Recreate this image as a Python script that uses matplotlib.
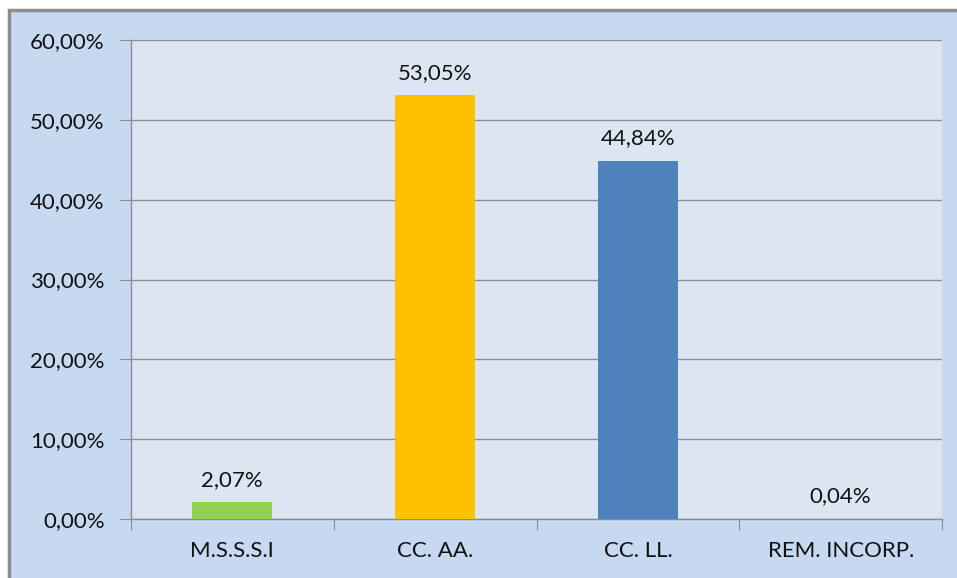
import matplotlib.pyplot as plt
from matplotlib.patches import Rectangle
from matplotlib.ticker import FuncFormatter

plt.rcParams['font.family'] = ['Lato', 'DejaVu Sans']

# datos
categorias = ['M.S.S.S.I', 'CC. AA.', 'CC. LL.', 'REM. INCORP.']
valores = [2.07, 53.05, 44.84, 0.04]
colores = ['#92d050', '#ffc000', '#4f81bd', '#8064a2']

fig = plt.figure(figsize=(9.57, 5.78), dpi=100)
fig.patch.set_facecolor('white')

# fondo del grafico con borde
fondo = Rectangle((9 / 957, -0.01), 1.0, 1.01 - 10 / 578, transform=fig.transFigure,
                  facecolor='#c6d9f1', edgecolor='#8c8c8c', linewidth=2.5, zorder=-5)
fig.patches.append(fondo)

ax = fig.add_axes([131 / 957, 1 - 519 / 578, (942 - 131) / 957, (519 - 40) / 578])
ax.set_facecolor('#dce6f2')

x = list(range(len(categorias)))
ax.bar(x, valores, width=0.395, color=colores, zorder=3)

for xi, v in zip(x, valores):
    ax.annotate(f'{v:.2f}%'.replace('.', ','), (xi, v), xytext=(0, 9),
                textcoords='offset points', ha='center', va='bottom',
                fontsize=16, color='#111111')

ax.set_xlim(-0.5, len(categorias) - 0.5)
ax.set_ylim(0, 60)
ax.set_yticks(range(0, 61, 10))
ax.yaxis.set_major_formatter(FuncFormatter(lambda v, p: f'{v:.2f}%'.replace('.', ',')))
ax.grid(axis='y', color='#8c8c8c', linewidth=1, zorder=1)

ax.set_xticks([i - 0.5 for i in range(len(categorias) + 1)])
ax.set_xticklabels([])
ax.set_xticks(x, minor=True)
ax.set_xticklabels(categorias, minor=True)
ax.tick_params(axis='x', which='minor', length=0, pad=16, labelsize=16, labelcolor='#111111')
ax.tick_params(axis='x', which='major', length=8, color='#8c8c8c')
ax.tick_params(axis='y', length=9, color='#8c8c8c', pad=10, labelsize=16, labelcolor='#111111')

for s in ['top', 'right']:
    ax.spines[s].set_visible(False)
for s in ['left', 'bottom']:
    ax.spines[s].set_color('#8c8c8c')
    ax.spines[s].set_linewidth(1)

fig.savefig('out.png', dpi=100)
